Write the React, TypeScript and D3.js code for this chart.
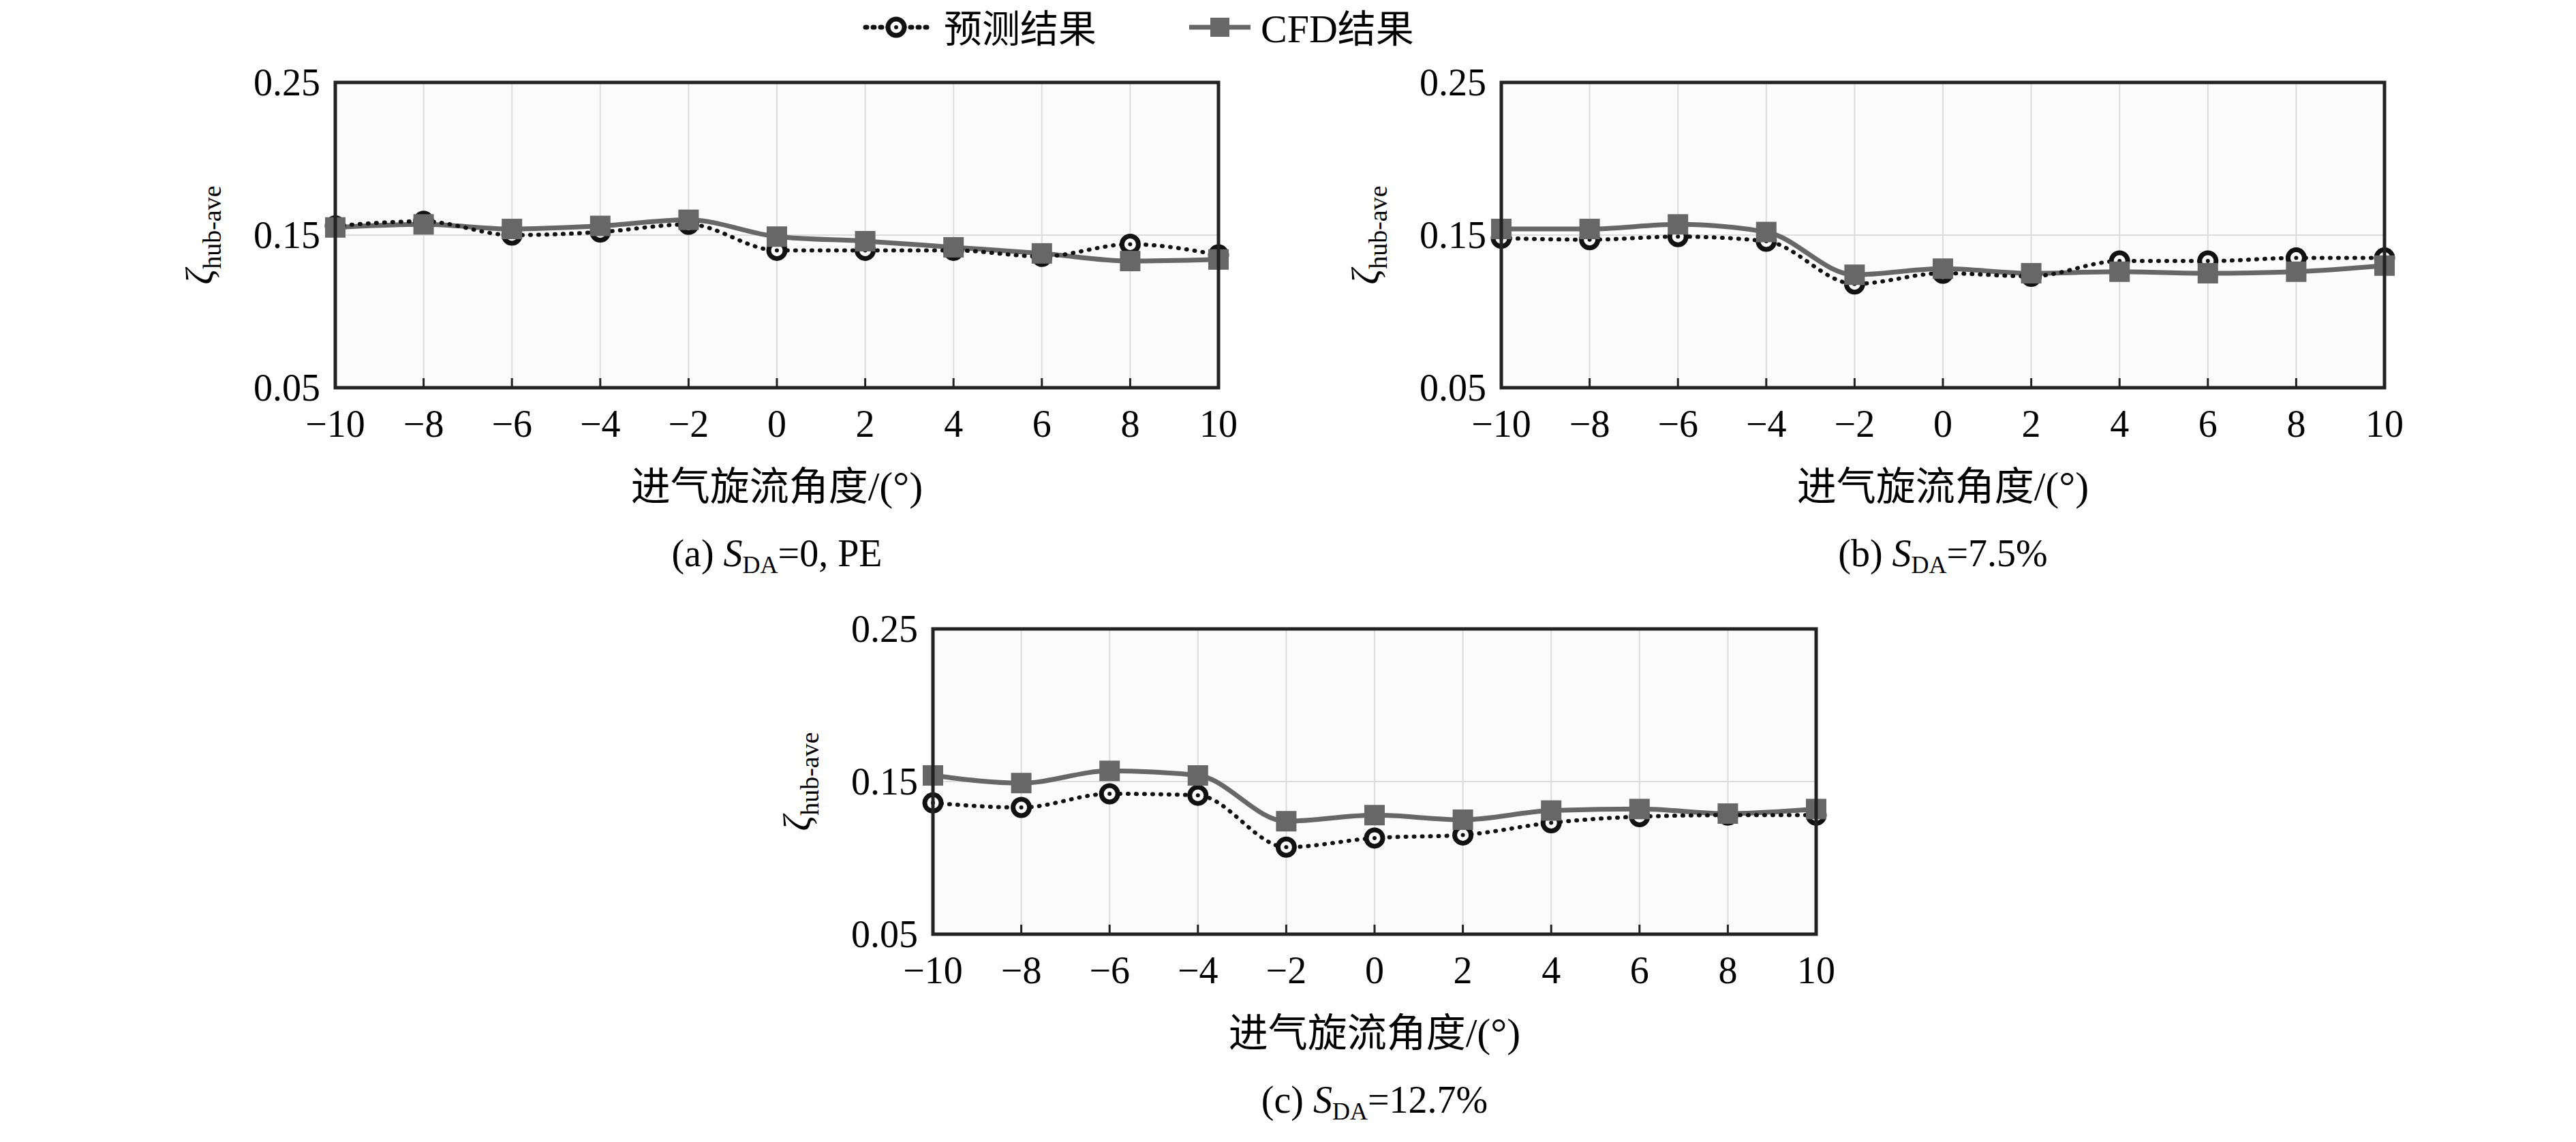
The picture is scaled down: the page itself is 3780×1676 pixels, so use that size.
import * as d3 from 'd3';
import { useEffect, useRef } from 'react';

const angles = [-10, -8, -6, -4, -2, 0, 2, 4, 6, 8, 10];
const yTicks = [0.05, 0.15, 0.25];

const predA = [0.156, 0.159, 0.15, 0.152, 0.157, 0.14, 0.14, 0.14, 0.136, 0.144, 0.137];
const cfdA = [0.155, 0.157, 0.154, 0.156, 0.16, 0.149, 0.146, 0.142, 0.138, 0.133, 0.134];
const predB = [0.148, 0.147, 0.149, 0.146, 0.118, 0.125, 0.123, 0.133, 0.133, 0.135, 0.135];
const cfdB = [0.154, 0.154, 0.157, 0.152, 0.124, 0.128, 0.125, 0.126, 0.125, 0.126, 0.13];
const predC = [0.136, 0.133, 0.142, 0.141, 0.107, 0.113, 0.115, 0.123, 0.127, 0.128, 0.128];
const cfdC = [0.154, 0.149, 0.157, 0.154, 0.124, 0.128, 0.125, 0.131, 0.132, 0.129, 0.132];

const panels = [
  { pred: predA, cfd: cfdA, tag: '(a) ', suffix: '=0, PE', left: 492, top: 121 },
  { pred: predB, cfd: cfdB, tag: '(b) ', suffix: '=7.5%', left: 2203, top: 121 },
  { pred: predC, cfd: cfdC, tag: '(c) ', suffix: '=12.7%', left: 1369, top: 923 },
];

const W = 3780;
const H = 1676;
const PW = 1296;
const PH = 448;
const SERIF = '"Liberation Serif", "DejaVu Serif", serif';
const CJK = '"Noto Sans CJK SC", sans-serif';
const GRAY = '#676767';

export default function App() {
  const ref = useRef<SVGSVGElement | null>(null);

  useEffect(() => {
    document.body.style.margin = '0';
    if (!ref.current) return;
    const svg = d3.select(ref.current);
    svg.selectAll('*').remove();
    svg.append('rect').attr('width', W).attr('height', H).attr('fill', '#fff');

    // legend
    const lg = svg.append('g');
    lg.append('line').attr('x1', 1270).attr('x2', 1360).attr('y1', 40).attr('y2', 40)
      .attr('stroke', '#111').attr('stroke-width', 7).attr('stroke-dasharray', '2 9').attr('stroke-linecap', 'round');
    lg.append('circle').attr('cx', 1315).attr('cy', 40).attr('r', 12).attr('fill', '#fff').attr('stroke', '#111').attr('stroke-width', 7);
    lg.append('circle').attr('cx', 1315).attr('cy', 40).attr('r', 3).attr('fill', '#111');
    lg.append('text').attr('x', 1385).attr('y', 62).attr('font-family', CJK).attr('font-size', 56).text('预测结果');
    lg.append('line').attr('x1', 1745).attr('x2', 1835).attr('y1', 40).attr('y2', 40).attr('stroke', GRAY).attr('stroke-width', 7);
    lg.append('rect').attr('x', 1776).attr('y', 26).attr('width', 28).attr('height', 28).attr('fill', GRAY);
    lg.append('text').attr('x', 1850).attr('y', 62).attr('font-family', SERIF).attr('font-size', 58)
      .text('CFD').append('tspan').attr('font-family', CJK).attr('font-size', 56).text('结果');

    panels.forEach((p) => {
      const g = svg.append('g').attr('transform', `translate(${p.left},${p.top})`);
      const x = d3.scaleLinear().domain([-10, 10]).range([0, PW]);
      const y = d3.scaleLinear().domain([0.05, 0.25]).range([PH, 0]);

      g.append('rect').attr('width', PW).attr('height', PH).attr('fill', '#fbfbfb');
      g.selectAll('.vg').data(angles).enter().append('line')
        .attr('x1', (d) => x(d)).attr('x2', (d) => x(d)).attr('y1', 0).attr('y2', PH)
        .attr('stroke', '#dcdcdc').attr('stroke-width', 2);
      g.append('line').attr('x1', 0).attr('x2', PW).attr('y1', y(0.15)).attr('y2', y(0.15))
        .attr('stroke', '#dcdcdc').attr('stroke-width', 2);
      g.selectAll('.tk').data(angles).enter().append('line')
        .attr('x1', (d) => x(d)).attr('x2', (d) => x(d)).attr('y1', PH).attr('y2', PH - 14)
        .attr('stroke', '#222').attr('stroke-width', 3);

      const line = d3.line<number>().x((_, i) => x(angles[i])).y((d) => y(d)).curve(d3.curveMonotoneX);
      g.append('path').attr('d', line(p.cfd)).attr('fill', 'none').attr('stroke', GRAY).attr('stroke-width', 7);
      g.append('path').attr('d', line(p.pred)).attr('fill', 'none').attr('stroke', '#111').attr('stroke-width', 6)
        .attr('stroke-dasharray', '1 11').attr('stroke-linecap', 'round');
      g.selectAll('.pc').data(p.pred).enter().append('circle')
        .attr('cx', (_, i) => x(angles[i])).attr('cy', (d) => y(d)).attr('r', 12)
        .attr('fill', '#fff').attr('stroke', '#111').attr('stroke-width', 7);
      g.selectAll('.pd').data(p.pred).enter().append('circle')
        .attr('cx', (_, i) => x(angles[i])).attr('cy', (d) => y(d)).attr('r', 3).attr('fill', '#111');
      g.selectAll('.sq').data(p.cfd).enter().append('rect')
        .attr('x', (_, i) => x(angles[i]) - 15).attr('y', (d) => y(d) - 15)
        .attr('width', 30).attr('height', 30).attr('fill', GRAY);

      g.append('rect').attr('width', PW).attr('height', PH).attr('fill', 'none').attr('stroke', '#222').attr('stroke-width', 5);

      g.selectAll('.yl').data(yTicks).enter().append('text')
        .attr('x', -22).attr('y', (d) => y(d) + 19).attr('text-anchor', 'end')
        .attr('font-family', SERIF).attr('font-size', 56).text((d) => d.toFixed(2));
      g.selectAll('.xl').data(angles).enter().append('text')
        .attr('x', (d) => x(d)).attr('y', PH + 72).attr('text-anchor', 'middle')
        .attr('font-family', SERIF).attr('font-size', 56).text((d) => (d < 0 ? `−${-d}` : `${d}`));

      const yl = g.append('text').attr('transform', `translate(-180,${PH / 2}) rotate(-90)`)
        .attr('text-anchor', 'middle').attr('font-family', SERIF);
      yl.append('tspan').attr('font-size', 56).attr('font-style', 'italic').text('ζ');
      yl.append('tspan').attr('font-size', 38).attr('dy', 12).text('hub-ave');

      g.append('text').attr('x', PW / 2).attr('y', PH + 165).attr('text-anchor', 'middle')
        .attr('font-family', CJK).attr('font-size', 58).text('进气旋流角度')
        .append('tspan').attr('font-family', SERIF).attr('font-size', 60).text('/(°)');

      const cap = g.append('text').attr('x', PW / 2).attr('y', PH + 262).attr('text-anchor', 'middle')
        .attr('font-family', SERIF).attr('font-size', 56);
      cap.append('tspan').text(p.tag);
      cap.append('tspan').attr('font-style', 'italic').text('S');
      cap.append('tspan').attr('font-size', 36).attr('dy', 10).text('DA');
      cap.append('tspan').attr('dy', -10).text(p.suffix);
    });
  }, []);

  return <svg ref={ref} width={W} height={H} style={{ display: 'block' }} />;
}
